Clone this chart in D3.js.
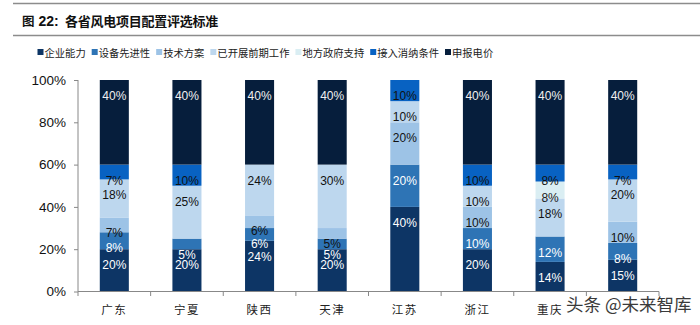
<!DOCTYPE html>
<html><head><meta charset="utf-8">
<script src="https://cdn.jsdelivr.net/npm/d3@7"></script>
<style>body{margin:0;background:#fff}svg{display:block}</style>
</head><body>
<svg id="c" width="700" height="325"></svg>
<script>
const categories = ["广东","宁夏","陕西","天津","江苏","浙江","重庆",""];
const seriesNames = ["企业能力","设备先进性","技术方案","已开展前期工作","地方政府支持","接入消纳条件","申报电价"];
const qiye     = [20,20,24,20,40,20,14,15];
const shebei   = [8, 5, 6, 5, 20,10,12,8];
const jishu    = [7, 0, 6, 5, 20,10,0, 10];
const qianqi   = [18,25,24,30,10,10,18,20];
const difang   = [0, 0, 0, 0, 0, 0, 8, 0];
const jieru    = [7, 10,0, 0, 10,10,8, 7];
const dianjia  = [40,40,40,40,0, 40,40,40];
const yTicks = [0,20,40,60,80,100];
const colors = ["#0d3565","#2e74b5","#9dc3e6","#bdd7ee","#daeef3","#0862c2","#061e3c"];
const labelColors = ["#fff","#fff","#111","#111","#222","#111","#f0f0f0"];

const seriesVals = [qiye,shebei,jishu,qianqi,difang,jieru,dianjia];
const rows = categories.map((c,i)=>{const o={cat:c,idx:i};seriesNames.forEach((s,j)=>o[s]=seriesVals[j][i]);return o;});
const stack = d3.stack().keys(seriesNames)(rows);

const svg = d3.select("#c");
const x = d3.scaleBand().domain(d3.range(categories.length)).range([78,659]).paddingInner(0.6).paddingOuter(0.3);
const y = d3.scaleLinear().domain([0,100]).range([291.5,80]);

// header lines and title
svg.append("line").attr("x1",13).attr("x2",700).attr("y1",3.5).attr("y2",3.5).attr("stroke","#8c8c8c").attr("stroke-width",1.5);
svg.append("line").attr("x1",13).attr("x2",700).attr("y1",35.5).attr("y2",35.5).attr("stroke","#8c8c8c").attr("stroke-width",1.5);
const t = svg.append("text").attr("y",26).attr("font-weight","bold").attr("fill","#111");
t.append("tspan").attr("x",22).attr("font-family","'Noto Sans CJK SC'").attr("font-size",12.5).text("图");
t.append("tspan").attr("x",38.5).attr("font-family","'Liberation Sans',Arial").attr("font-size",14).text("22:");
t.append("tspan").attr("x",65).attr("font-family","'Noto Sans CJK SC'").attr("font-size",13).attr("letter-spacing",-0.25).text("各省风电项目配置评选标准");

// legend
let lx = 37.5;
seriesNames.forEach((s,i)=>{
  svg.append("rect").attr("x",lx).attr("y",49).attr("width",6).attr("height",6).attr("fill",colors[i]);
  const tx = svg.append("text").attr("x",lx+7).attr("y",52).attr("dominant-baseline","central")
    .attr("font-family","'Noto Sans CJK SC'").attr("font-size",10.3).attr("fill","#222").text(s);
  lx = lx + 7 + tx.node().getComputedTextLength() + 6;
});

// bars
stack.forEach((layer,j)=>{
  const g = svg.append("g");
  layer.forEach((d,i)=>{
    const v = d[1]-d[0];
    if(v<=0) return;
    g.append("rect").attr("x",x(i)).attr("width",x.bandwidth())
      .attr("y",y(d[1])).attr("height",y(d[0])-y(d[1])).attr("fill",colors[j]);
  });
});
stack.forEach((layer,j)=>{
  layer.forEach((d,i)=>{
    const v = d[1]-d[0];
    if(v<=0) return;
    svg.append("text").attr("x",x(i)+x.bandwidth()/2).attr("y",y(d[1])+16)
      .attr("text-anchor","middle").attr("dominant-baseline","central")
      .attr("font-family","'Liberation Sans',Arial").attr("font-size",12)
      .attr("fill",labelColors[j]).text(v+"%");
  });
});

// y axis
const ya = svg.append("g").attr("transform","translate(78,0)")
  .call(d3.axisLeft(y).tickValues(yTicks).tickFormat(d=>d+"%").tickSize(4).tickPadding(8));
ya.select(".domain").attr("stroke","#888").attr("d","M0,80V291.5");
ya.selectAll(".tick line").attr("stroke","#888");
ya.selectAll("text").attr("font-family","'Liberation Sans',Arial").attr("font-size",13.5).attr("fill","#111");

// x axis
svg.append("line").attr("x1",78).attr("x2",659).attr("y1",291.5).attr("y2",291.5).attr("stroke","#888");
const bounds = d3.range(categories.length+1).map(i=>78+i*x.step());
svg.selectAll(".xt").data(bounds).enter().append("line").attr("x1",d=>d).attr("x2",d=>d)
  .attr("y1",291.5).attr("y2",296).attr("stroke","#888");
svg.selectAll(".xl").data(categories).enter().append("text")
  .attr("x",(d,i)=>x(i)+x.bandwidth()/2).attr("y",309).attr("text-anchor","middle").attr("dominant-baseline","central")
  .attr("font-family","'Noto Sans CJK SC'").attr("font-size",11.5).attr("letter-spacing",1.5).attr("fill","#222").text(d=>d);

// watermark
svg.append("text").attr("x",566).attr("y",303).attr("dominant-baseline","central")
  .attr("font-family","'Noto Sans CJK SC'").attr("font-size",17.5).attr("fill","#3a3a3a")
  .attr("stroke","#fff").attr("stroke-width",0.6).attr("paint-order","stroke").text("头条 @未来智库");
</script>
</body></html>
